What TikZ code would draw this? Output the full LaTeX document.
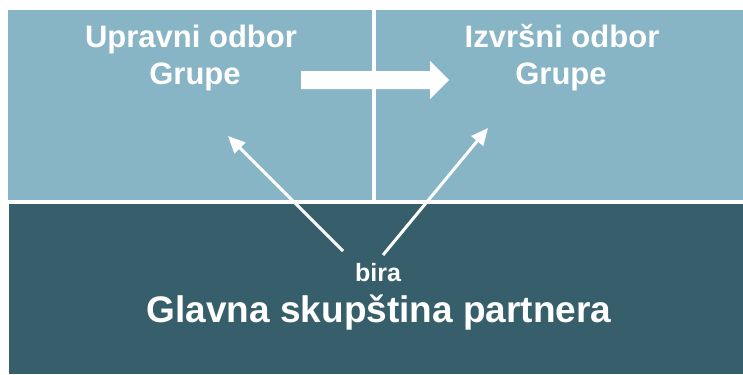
\documentclass[tikz,border=0pt]{standalone}
\usepackage{fontspec}
\setmainfont{Liberation Sans}
\usetikzlibrary{arrows.meta}
\definecolor{lightbox}{HTML}{87B5C5}
\definecolor{darkbox}{HTML}{365E6B}
\begin{document}
\begin{tikzpicture}[x=1bp,y=-1bp,
  panel/.style={anchor=north west,inner sep=0pt,outer sep=0pt,draw=none},
  toptext/.style={anchor=base,text=white,inner sep=0pt,font=\bfseries\fontsize{31bp}{37bp}\selectfont},
  bigtext/.style={anchor=base,text=white,inner sep=0pt,font=\bfseries\fontsize{37bp}{44bp}\selectfont},
  smalltext/.style={anchor=base,text=white,inner sep=0pt,font=\bfseries\fontsize{25bp}{30bp}\selectfont},
  thinarrow/.style={draw=white,line width=3bp,-{Triangle[length=17bp,width=15bp]}},
  blockarrow/.style={fill=white,draw=none}]
\useasboundingbox (0,0) rectangle (743,374);
% panels
\node[panel,fill=lightbox,minimum width=364bp,minimum height=190bp] (upr) at (8,10) {};
\node[panel,fill=lightbox,minimum width=367bp,minimum height=190bp] (izv) at (376,10) {};
\node[panel,fill=darkbox,minimum width=734bp,minimum height=170bp] (gs) at (9,204) {};
% texts
\node[toptext] (upr1) at (191,47) {Upravni odbor};
\node[toptext] (upr2) at (195,84) {Grupe};
\node[toptext] (izv1) at (562,47) {Izvršni odbor};
\node[toptext] (izv2) at (561,84) {Grupe};
\node[smalltext] (bira) at (378,281) {bira};
\node[bigtext] (gstext) at (379,322) {Glavna skupština partnera};
% block arrow
\fill[blockarrow] (301,71) -- (430,71) -- (430,61) -- (449,80) -- (430,99) -- (430,89) -- (301,89) -- cycle;
% thin arrows
\coordinate (a1s) at (343,251);
\coordinate (a1e) at (228,136);
\coordinate (a2s) at (383,255);
\coordinate (a2e) at (488,128);
\draw[thinarrow] (a1s) -- (a1e);
\draw[thinarrow] (a2s) -- (a2e);
\end{tikzpicture}
\end{document}
